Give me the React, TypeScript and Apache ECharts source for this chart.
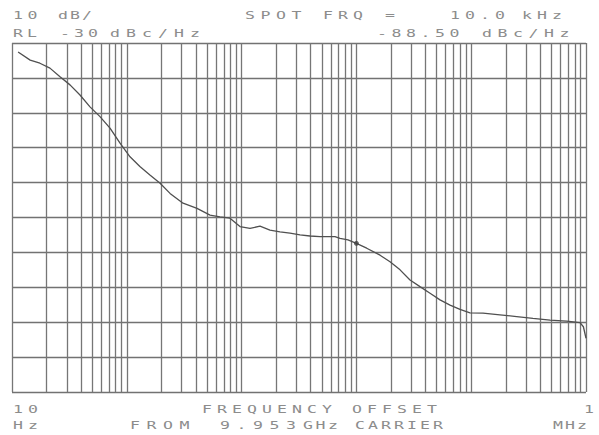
import React, { useEffect, useRef } from "react";
import * as echarts from "echarts";

// Phase-noise trace: offset frequency (Hz) and level (dBc/Hz)
const freqHz = [11.3, 14.4, 17.5, 21.4, 26.2, 32, 39.1, 47.8, 58.4, 71.4, 87.3, 106.7, 130, 159, 195, 238, 309, 409, 531, 648, 792, 968, 1183, 1446, 1767, 2160, 2640, 3226, 3943, 4820, 6510, 7200, 8450, 10000, 12300, 16070, 19630, 24000, 29300, 35800, 43800, 53500, 65400, 79900, 97600, 126700, 178000, 249000, 345000, 486000, 679000, 887000, 949000, 1000000];
const noiseDbc = [-32.6, -34.9, -35.8, -37.2, -39.7, -42.0, -44.9, -48.3, -51.1, -54.4, -58.7, -62.6, -65.4, -67.8, -70.2, -73.1, -75.9, -77.4, -79.3, -79.8, -80.2, -82.6, -83.1, -82.5, -83.6, -84.1, -84.5, -85.0, -85.3, -85.5, -85.5, -86.0, -86.4, -87.4, -88.8, -90.8, -92.7, -95.0, -97.9, -99.8, -101.7, -103.6, -105.1, -106.3, -107.3, -107.4, -107.9, -108.4, -108.9, -109.4, -109.7, -110.1, -111.3, -114.6];

// Spot marker
const spotFreq = [10000];
const spotLevel = [-87.4];

// Axis ranges
const xMin = 10;
const xMax = 1000000;
const yMin = -130;
const yMax = -30;
const yStep = 10;

// log grid multipliers per decade
const decades = [10, 100, 1000, 10000, 100000];
const multipliers = [1, 2, 3, 4, 5, 6, 7, 8, 9];

// Annotation text segments
const headerLine1 = [
  { t: "10", x: 13, p: 14.5 },
  { t: "dB/", x: 58, p: 12 },
  { t: "SPOT", x: 245, p: 15.5 },
  { t: "FRQ", x: 323, p: 15 },
  { t: "=", x: 385, p: 15 },
  { t: "10.0", x: 450, p: 15 },
  { t: "kHz", x: 522, p: 15 },
];
const headerLine2 = [
  { t: "RL", x: 13, p: 14 },
  { t: "-30", x: 60, p: 14 },
  { t: "dBc/Hz", x: 110, p: 16 },
  { t: "-88.50", x: 377, p: 14.5 },
  { t: "dBc/Hz", x: 482, p: 15.5 },
];
const footerLine1 = [
  { t: "10", x: 13, p: 15 },
  { t: "FREQUENCY", x: 202, p: 15 },
  { t: "OFFSET", x: 352, p: 15 },
  { t: "1", x: 584, p: 15 },
];
const footerLine2 = [
  { t: "Hz", x: 13, p: 15 },
  { t: "FROM", x: 130, p: 16.5 },
  { t: "9.953", x: 220, p: 16.5 },
  { t: "GHz", x: 303, p: 12.5 },
  { t: "CARRIER", x: 355, p: 13 },
  { t: "MHz", x: 553, p: 12 },
];

const textColor = "#8c8c8c";

function buildText(segs: { t: string; x: number; p: number }[], y: number) {
  const out: any[] = [];
  segs.forEach((s) => {
    for (let i = 0; i < s.t.length; i++) {
      const ch = s.t[i];
      if (ch === " ") continue;
      out.push({
        type: "text",
        x: s.x + i * s.p,
        y,
        scaleX: 1.65,
        silent: true,
        style: {
          text: ch,
          fill: textColor,
          font: '10px "DejaVu Sans Mono"',
          verticalAlign: "middle",
          align: "left",
        },
      });
    }
  });
  return out;
}

export default function App() {
  const ref = useRef<HTMLDivElement>(null);
  useEffect(() => {
    if (!ref.current) return;
    const chart = echarts.init(ref.current, undefined, { renderer: "svg" });
    const gridFreqs: number[] = [];
    decades.forEach((d) => multipliers.forEach((m) => gridFreqs.push(d * m)));
    gridFreqs.push(xMax);
    const trace = freqHz.map((f, i) => [f, noiseDbc[i]]);
    const spot = spotFreq.map((f, i) => [f, spotLevel[i]]);
    chart.setOption({
      animation: false,
      backgroundColor: "#ffffff",
      grid: { left: 12, top: 43, right: 13, bottom: 43, containLabel: false },
      xAxis: {
        type: "log",
        logBase: 10,
        min: xMin,
        max: xMax,
        axisLine: { show: false },
        axisTick: { show: false },
        axisLabel: { show: false },
        splitLine: { show: false },
        minorTick: { show: false },
      },
      yAxis: {
        type: "value",
        min: yMin,
        max: yMax,
        interval: yStep,
        axisLine: { show: false },
        axisTick: { show: false },
        axisLabel: { show: false },
        splitLine: { show: true, lineStyle: { color: "#727272", width: 1.3 } },
      },
      series: [
        {
          type: "line",
          data: trace,
          showSymbol: false,
          symbol: "none",
          lineStyle: { color: "#505050", width: 1.3 },
          silent: true,
          z: 5,
          markLine: {
            silent: true,
            symbol: ["none", "none"],
            label: { show: false },
            lineStyle: { color: "#767676", width: 1.3, type: "solid" },
            emphasis: { disabled: true },
            data: gridFreqs.map((f) => ({ xAxis: f })),
            z: 1,
          },
        },
        {
          type: "scatter",
          data: spot,
          symbol: "circle",
          symbolSize: 5,
          itemStyle: { color: "#404040" },
          silent: true,
          z: 6,
        },
      ],
      graphic: [
        ...buildText(headerLine1, 15.5),
        ...buildText(headerLine2, 33.5),
        ...buildText(footerLine1, 409.5),
        ...buildText(footerLine2, 425.5),
      ],
    });
    return () => chart.dispose();
  }, []);
  return (
    <div
      ref={ref}
      style={{ position: "fixed", left: 0, top: 0, width: 599, height: 435, background: "#fff" }}
    />
  );
}
